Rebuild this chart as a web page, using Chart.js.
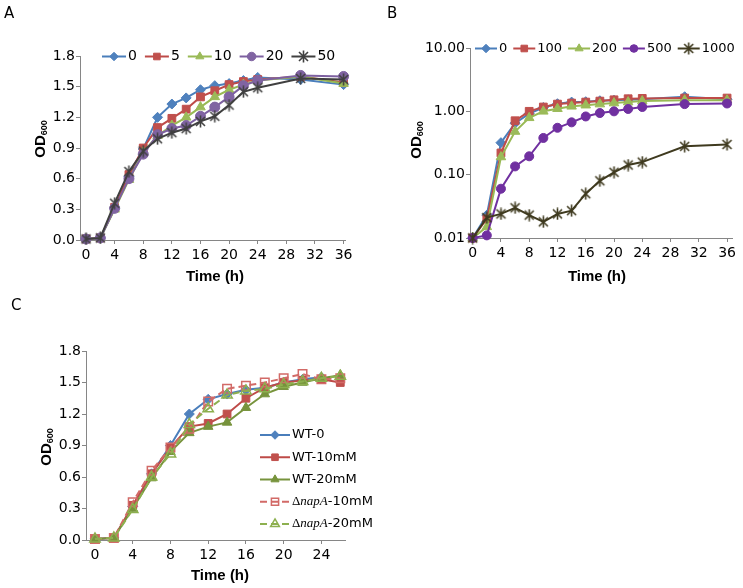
<!DOCTYPE html>
<html lang="en">
<head>
<meta charset="UTF-8">
<title>Growth curves</title>
<script src="https://cdn.jsdelivr.net/npm/chart.js@4.4.0/dist/chart.umd.min.js"></script>
<style>
    body { margin: 0; background: #fff; font-family: "DejaVu Sans", sans-serif; }
    .page { position: relative; width: 743px; height: 588px; overflow: hidden; }
    .panel { position: absolute; }
    .tag { position: absolute; font-size: 15px; line-height: 17px; color: #000; }
</style>
</head>
<body>
<div class="page">
    <canvas id="chartA" class="panel" width="370" height="290" style="left:0;top:0"></canvas>
    <canvas id="chartB" class="panel" width="373" height="290" style="left:370px;top:0"></canvas>
    <canvas id="chartC" class="panel" width="390" height="298" style="left:0;top:290px"></canvas>
    <div class="tag" style="left:4px;top:5px">A</div>
    <div class="tag" style="left:387px;top:5px">B</div>
    <div class="tag" style="left:11px;top:297px">C</div>
</div>
<script>
// ---- Panel A ----
const timeA = [0, 2, 4, 6, 8, 10, 12, 14, 16, 18, 20, 22, 24, 30, 36];
const namesA = ['0', '5', '10', '20', '50'];
const odA0  = [0.01, 0.02, 0.31, 0.62, 0.89, 1.20, 1.33, 1.39, 1.47, 1.51, 1.53, 1.56, 1.59, 1.57, 1.52];
const odA5  = [0.01, 0.02, 0.32, 0.64, 0.90, 1.10, 1.19, 1.28, 1.40, 1.46, 1.52, 1.55, 1.57, 1.60, 1.54];
const odA10 = [0.01, 0.02, 0.30, 0.59, 0.86, 1.02, 1.12, 1.20, 1.30, 1.40, 1.47, 1.52, 1.56, 1.60, 1.53];
const odA20 = [0.01, 0.02, 0.31, 0.60, 0.84, 1.03, 1.09, 1.12, 1.21, 1.30, 1.40, 1.51, 1.56, 1.61, 1.60];
const odA50 = [0.01, 0.02, 0.36, 0.67, 0.87, 0.99, 1.05, 1.09, 1.16, 1.21, 1.32, 1.45, 1.49, 1.58, 1.57];
const xTicksA = [0, 4, 8, 12, 16, 20, 24, 28, 32, 36];
const yTicksA = [0, 0.3, 0.6, 0.9, 1.2, 1.5, 1.8];

// ---- Panel B ----
const timeB = [0, 2, 4, 6, 8, 10, 12, 14, 16, 18, 20, 22, 24, 30, 36];
const namesB = ['0', '100', '200', '500', '1000'];
const odB0    = [0.01, 0.023, 0.32, 0.65, 0.92, 1.15, 1.32, 1.40, 1.42, 1.47, 1.50, 1.52, 1.55, 1.70, 1.55];
const odB100  = [0.01, 0.02, 0.22, 0.71, 1.00, 1.17, 1.30, 1.35, 1.40, 1.45, 1.52, 1.58, 1.60, 1.62, 1.62];
const odB200  = [0.01, 0.015, 0.19, 0.48, 0.79, 1.00, 1.10, 1.20, 1.25, 1.30, 1.35, 1.40, 1.45, 1.50, 1.50];
const odB500  = [0.01, 0.011, 0.06, 0.135, 0.195, 0.38, 0.55, 0.67, 0.83, 0.94, 1.00, 1.09, 1.17, 1.30, 1.33];
const odB1000 = [0.01, 0.021, 0.024, 0.030, 0.023, 0.018, 0.024, 0.027, 0.050, 0.080, 0.109, 0.142, 0.158, 0.28, 0.30];
const xTicksB = [0, 4, 8, 12, 16, 20, 24, 28, 32, 36];
const yTicksB = [0.01, 0.1, 1, 10];

// ---- Panel C ----
const timeC = [0, 2, 4, 6, 8, 10, 12, 14, 16, 18, 20, 22, 24, 26];
const namesC = ['WT-0', 'WT-10mM', 'WT-20mM', '\u0394napA-10mM', '\u0394napA-20mM'];
const odWT0   = [0.01, 0.02, 0.32, 0.63, 0.90, 1.20, 1.34, 1.39, 1.43, 1.45, 1.50, 1.53, 1.55, null];
const odWT10  = [0.01, 0.02, 0.33, 0.63, 0.88, 1.08, 1.11, 1.20, 1.35, 1.45, 1.50, 1.52, 1.53, 1.50];
const odWT20  = [0.01, 0.02, 0.30, 0.59, 0.84, 1.02, 1.08, 1.12, 1.26, 1.39, 1.46, 1.50, 1.54, 1.57];
const odNap10 = [0.01, 0.02, 0.36, 0.66, 0.88, 1.06, 1.32, 1.44, 1.47, 1.50, 1.54, 1.58, 1.53, 1.54];
const odNap20 = [0.01, 0.02, 0.29, 0.60, 0.82, 1.10, 1.25, 1.38, 1.42, 1.44, 1.48, 1.51, 1.54, 1.56];
const xTicksC = [0, 4, 8, 12, 16, 20, 24];
const yTicksC = [0, 0.3, 0.6, 0.9, 1.2, 1.5, 1.8];

const AXIS = '#868686';
const TICK_FONT = { family: '"DejaVu Sans", sans-serif', size: 14 };
const SANS = '"DejaVu Sans", sans-serif';
const BOLD = 'bold 15px "Liberation Sans", Arial, sans-serif';

// excel style asterisk marker
function starImage(color) {
    const c = document.createElement('canvas');
    c.width = 13; c.height = 13;
    const g = c.getContext('2d');
    g.strokeStyle = color;
    g.lineWidth = 1.6;
    g.beginPath();
    g.moveTo(2, 2); g.lineTo(11, 11);
    g.moveTo(11, 2); g.lineTo(2, 11);
    g.moveTo(6.5, 0.5); g.lineTo(6.5, 12.5);
    g.stroke();
    return c;
}

function series(label, xs, ys, st, idx) {
    return {
        label: label,
        data: xs.map((x, i) => ({ x: x, y: ys[i] })),
        borderColor: st.line,
        backgroundColor: st.fill,
        borderWidth: 2,
        borderDash: st.dash || [],
        pointStyle: st.point,
        pointRadius: st.r,
        pointBackgroundColor: st.fill,
        pointBorderColor: st.edge || st.fill,
        pointBorderWidth: st.bw || 1,
        tension: 0,
        clip: false,
        order: 10 - idx
    };
}

function drawMarker(ctx, ds, x, y) {
    const ps = ds.pointStyle, r = ds.pointRadius * 0.85;
    if (typeof ps !== 'string') {
        ctx.drawImage(ps, x - ps.width / 2, y - ps.height / 2);
        return;
    }
    ctx.beginPath();
    if (ps === 'rectRot') {
        ctx.moveTo(x, y - r); ctx.lineTo(x + r, y); ctx.lineTo(x, y + r); ctx.lineTo(x - r, y);
    } else if (ps === 'rect') {
        const h = r * Math.SQRT1_2;
        ctx.rect(x - h, y - h, 2 * h, 2 * h);
    } else if (ps === 'triangle') {
        ctx.moveTo(x, y - r); ctx.lineTo(x + r * 0.866, y + r * 0.5); ctx.lineTo(x - r * 0.866, y + r * 0.5);
    } else {
        ctx.arc(x, y, r, 0, Math.PI * 2);
    }
    ctx.closePath();
    ctx.fillStyle = ds.pointBackgroundColor;
    ctx.fill();
    ctx.lineWidth = ds.pointBorderWidth;
    ctx.strokeStyle = ds.pointBorderColor;
    ctx.stroke();
}

// legend text; the delta-napA labels get an italic serif gene name
function drawLabel(ctx, text, x, y, size) {
    ctx.fillStyle = '#000';
    if (text.charAt(0) !== '\u0394') {
        ctx.font = size + 'px ' + SANS;
        ctx.fillText(text, x, y);
        return ctx.measureText(text).width;
    }
    const gene = text.slice(1, 5), rest = text.slice(5);
    let cx = x;
    ctx.font = '13px "Liberation Serif", serif';
    ctx.fillText('\u0394', cx, y); cx += ctx.measureText('\u0394').width;
    ctx.font = 'italic 13px "Liberation Serif", serif';
    ctx.fillText(gene, cx, y); cx += ctx.measureText(gene).width;
    ctx.font = size + 'px ' + SANS;
    ctx.fillText(rest, cx, y); cx += ctx.measureText(rest).width;
    return cx - x;
}

const decor = {
    id: 'decor',
    afterDraw(chart, args, o) {
        const ctx = chart.ctx;
        ctx.save();
        ctx.fillStyle = '#000';
        ctx.textAlign = 'center';
        ctx.textBaseline = 'middle';
        ctx.font = BOLD;
        ctx.fillText('Time (h)', o.xTitle[0], o.xTitle[1]);

        ctx.translate(o.yTitle[0], o.yTitle[1]);
        ctx.rotate(-Math.PI / 2);
        ctx.textAlign = 'left';
        ctx.font = BOLD;
        const w1 = ctx.measureText('OD').width;
        ctx.font = 'bold 9px "Liberation Sans", Arial, sans-serif';
        const w2 = ctx.measureText('600').width;
        const x0 = -(w1 + w2) / 2;
        ctx.font = BOLD;
        ctx.fillText('OD', x0, 0);
        ctx.font = 'bold 9px "Liberation Sans", Arial, sans-serif';
        ctx.fillText('600', x0 + w1, 4);
        ctx.restore();

        const lg = o.legend;
        ctx.save();
        ctx.textAlign = 'left';
        ctx.textBaseline = 'middle';
        let x = lg.x, y = lg.y;
        chart.data.datasets.forEach(ds => {
            ctx.strokeStyle = ds.borderColor;
            ctx.lineWidth = 2;
            ctx.setLineDash(ds.borderDash);
            ctx.beginPath();
            ctx.moveTo(x, y);
            ctx.lineTo(x + lg.line, y);
            ctx.stroke();
            ctx.setLineDash([]);
            drawMarker(ctx, ds, x + lg.line / 2, y);
            const tx = x + lg.line + lg.gap;
            const tw = drawLabel(ctx, ds.label, tx, y, lg.size);
            if (lg.step) y += lg.step;
            else x = tx + tw + lg.space;
        });
        ctx.restore();
    }
};

function axis(min, max, type, tickVals, fmt, fit, isX) {
    return {
        type: type,
        min: min,
        max: max,
        afterBuildTicks: s => { s.ticks = tickVals.map(v => ({ value: v })); },
        afterFit: s => { if (isX) s.height = fit; else s.width = fit; },
        ticks: {
            font: TICK_FONT,
            color: '#000',
            padding: isX ? 3 : 1,
            autoSkip: false,
            maxRotation: 0,
            callback: fmt
        },
        grid: { drawOnChartArea: false, drawTicks: true, tickLength: 4, color: AXIS },
        border: { color: AXIS, width: 1 }
    };
}

function buildChart(id, datasets, c) {
    return new Chart(document.getElementById(id), {
        type: 'line',
        data: { datasets: datasets },
        options: {
            responsive: false,
            animation: false,
            devicePixelRatio: 1,
            events: [],
            layout: { padding: c.padding },
            plugins: {
                legend: { display: false },
                tooltip: { enabled: false },
                decor: c.decor
            },
            scales: {
                x: axis(c.xMin, c.xMax, 'linear', c.xTicks, v => String(v), c.xHeight, true),
                y: axis(c.yMin, c.yMax, c.yType, c.yTicks, c.yFmt, c.yWidth, false)
            }
        },
        plugins: [decor]
    });
}

const stylesA = [
    { line: '#4A7EBB', fill: '#4F81BD', point: 'rectRot', r: 5 },
    { line: '#BE4B48', fill: '#C0504D', point: 'rect', r: 5.5 },
    { line: '#98B954', fill: '#9BBB59', point: 'triangle', r: 5.5 },
    { line: '#7D60A0', fill: '#8064A2', point: 'circle', r: 5 },
    { line: '#404040', fill: '#404040', point: starImage('#404040'), r: 6 }
];
const stylesB = [
    { line: '#4A7EBB', fill: '#4F81BD', point: 'rectRot', r: 5 },
    { line: '#BE4B48', fill: '#C0504D', point: 'rect', r: 5.5 },
    { line: '#98B954', fill: '#9BBB59', point: 'triangle', r: 5.5 },
    { line: '#7030A0', fill: '#7030A0', point: 'circle', r: 4.5 },
    { line: '#3F3A1F', fill: '#3F3A1F', point: starImage('#3F3A1F'), r: 6 }
];
const stylesC = [
    { line: '#4A7EBB', fill: '#4F81BD', point: 'rectRot', r: 5 },
    { line: '#BE4B48', fill: '#C0504D', point: 'rect', r: 5.5 },
    { line: '#77933C', fill: '#77933C', point: 'triangle', r: 5.5 },
    { line: '#D26A67', fill: 'rgba(0,0,0,0)', edge: '#D26A67', bw: 1.5, point: 'rect', r: 6, dash: [7, 4] },
    { line: '#8DB04F', fill: 'rgba(0,0,0,0)', edge: '#8DB04F', bw: 1.5, point: 'triangle', r: 6, dash: [7, 4] }
];

const setsA = [odA0, odA5, odA10, odA20, odA50].map((v, i) => series(namesA[i], timeA, v, stylesA[i], i));
const setsB = [odB0, odB100, odB200, odB500, odB1000].map((v, i) => series(namesB[i], timeB, v, stylesB[i], i));
const setsC = [odWT0, odWT10, odWT20, odNap10, odNap20].map((v, i) => series(namesC[i], timeC, v, stylesC[i], i));

buildChart('chartA', setsA, {
    padding: { top: 56, right: 25, left: 0, bottom: 0 },
    xMin: -0.84, xMax: 36.2, xTicks: xTicksA, xHeight: 50,
    yType: 'linear', yMin: 0, yMax: 1.8, yTicks: yTicksA, yFmt: v => v.toFixed(1), yWidth: 80,
    decor: {
        xTitle: [215, 277], yTitle: [41, 139],
        legend: { x: 102, y: 56.5, line: 24, gap: 2, space: 8, size: 14 }
    }
});

buildChart('chartB', setsB, {
    padding: { top: 48, right: 11, left: 0, bottom: 0 },
    xMin: -0.38, xMax: 36.7, xTicks: xTicksB, xHeight: 52,
    yType: 'logarithmic', yMin: 0.01, yMax: 10, yTicks: yTicksB, yFmt: v => Number(v).toFixed(2), yWidth: 100,
    decor: {
        xTitle: [227, 277], yTitle: [47, 140],
        legend: { x: 105, y: 48.5, line: 22, gap: 2, space: 6, size: 13 }
    }
});

buildChart('chartC', setsC, {
    padding: { top: 61, right: 45, left: 0, bottom: 0 },
    xMin: -0.95, xMax: 26.5, xTicks: xTicksC, xHeight: 48,
    yType: 'linear', yMin: 0, yMax: 1.8, yTicks: yTicksC, yFmt: v => v.toFixed(1), yWidth: 86,
    decor: {
        xTitle: [220, 286], yTitle: [47, 157],
        legend: { x: 260, y: 145, line: 30, gap: 2, step: 22.25, size: 13 }
    }
});
</script>
</body>
</html>
